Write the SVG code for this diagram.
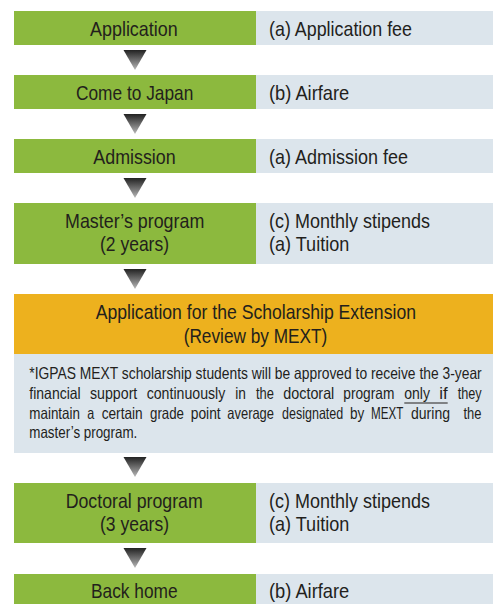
<svg xmlns="http://www.w3.org/2000/svg" width="493" height="604" viewBox="0 0 493 604">
<style>
.g{fill:#8cb93e}
.b{fill:#dce5ec}
.o{fill:#edb11e}
.t{font-family:"Liberation Sans",Arial,sans-serif;font-size:21px;fill:#231f1c}
.n{font-family:"Liberation Sans",Arial,sans-serif;font-size:16.3px;fill:#231f1c}
</style>
<defs>
<linearGradient id="ag" x1="0" y1="0" x2="0" y2="1">
<stop offset="0" stop-color="#222"/>
<stop offset="1" stop-color="#b8b8b8"/>
</linearGradient>
</defs>
<rect width="493" height="604" fill="#fff"/>
<g id="connectors" fill="url(#ag)">
<polygon points="123.5,50 146.5,50 135,70"/>
<polygon points="123.5,114 146.5,114 135,134"/>
<polygon points="123.5,178 146.5,178 135,198"/>
<polygon points="123.5,269 146.5,269 135,289"/>
<polygon points="123.5,457 146.5,457 135,477"/>
<polygon points="123.5,548 146.5,548 135,568"/>
</g>
<g id="application">
<rect class="g" x="14" y="11" width="242" height="34"/>
<rect class="b" x="256" y="11" width="237" height="34"/>
<text class="t" x="90" y="36" textLength="87.7" lengthAdjust="spacingAndGlyphs">Application</text>
<text class="t" x="269" y="36" textLength="143" lengthAdjust="spacingAndGlyphs">(a) Application fee</text>
</g>
<g id="come-to-japan">
<rect class="g" x="14" y="75" width="242" height="34"/>
<rect class="b" x="256" y="75" width="237" height="34"/>
<text class="t" x="76" y="100" textLength="117.3" lengthAdjust="spacingAndGlyphs">Come to Japan</text>
<text class="t" x="269" y="100" textLength="80.3" lengthAdjust="spacingAndGlyphs">(b) Airfare</text>
</g>
<g id="admission">
<rect class="g" x="14" y="139" width="242" height="34"/>
<rect class="b" x="256" y="139" width="237" height="34"/>
<text class="t" x="93.3" y="164" textLength="82.4" lengthAdjust="spacingAndGlyphs">Admission</text>
<text class="t" x="269" y="164" textLength="139" lengthAdjust="spacingAndGlyphs">(a) Admission fee</text>
</g>
<g id="masters">
<rect class="g" x="14" y="203" width="242" height="61"/>
<rect class="b" x="256" y="203" width="237" height="61"/>
<text class="t" x="65" y="227.5" textLength="139.3" lengthAdjust="spacingAndGlyphs">Master’s program</text>
<text class="t" x="100" y="250.5" textLength="69" lengthAdjust="spacingAndGlyphs">(2 years)</text>
<text class="t" x="269" y="227.5" textLength="161" lengthAdjust="spacingAndGlyphs">(c) Monthly stipends</text>
<text class="t" x="269" y="250.5" textLength="80.3" lengthAdjust="spacingAndGlyphs">(a) Tuition</text>
</g>
<g id="extension">
<rect class="o" x="14" y="294" width="479" height="60"/>
<rect class="b" x="14" y="354" width="479" height="99"/>
<text class="t" x="95.7" y="319" textLength="320.3" lengthAdjust="spacingAndGlyphs">Application for the Scholarship Extension</text>
<text class="t" x="183.7" y="343" textLength="143.6" lengthAdjust="spacingAndGlyphs">(Review by MEXT)</text>
<g transform="scale(0.82,1)">
<text class="n" x="35.73" y="379" textLength="551.7" lengthAdjust="spacingAndGlyphs">*IGPAS MEXT scholarship students will be approved to receive the 3-year</text>
<g>
<text class="n" x="35.73" y="399" textLength="62.68" lengthAdjust="spacingAndGlyphs">financial</text>
<text class="n" x="109.76" y="399" textLength="57.68" lengthAdjust="spacingAndGlyphs">support</text>
<text class="n" x="178.9" y="399" textLength="95.85" lengthAdjust="spacingAndGlyphs">continuously</text>
<text class="n" x="286.95" y="399" textLength="13.05" lengthAdjust="spacingAndGlyphs">in</text>
<text class="n" x="312.2" y="399" textLength="21.95" lengthAdjust="spacingAndGlyphs">the</text>
<text class="n" x="345.49" y="399" textLength="62.2" lengthAdjust="spacingAndGlyphs">doctoral</text>
<text class="n" x="418.66" y="399" textLength="62.2" lengthAdjust="spacingAndGlyphs">program</text>
<text class="n" x="493.05" y="399" textLength="31.34" lengthAdjust="spacingAndGlyphs">only</text>
<text class="n" x="535.73" y="399" textLength="10.24" lengthAdjust="spacingAndGlyphs">if</text>
<text class="n" x="558.17" y="399" textLength="29.27" lengthAdjust="spacingAndGlyphs">they</text>
</g>
<g>
<text class="n" x="35.73" y="419" textLength="61.83" lengthAdjust="spacingAndGlyphs">maintain</text>
<text class="n" x="106.46" y="419" textLength="8.54" lengthAdjust="spacingAndGlyphs">a</text>
<text class="n" x="124.02" y="419" textLength="50" lengthAdjust="spacingAndGlyphs">certain</text>
<text class="n" x="182.93" y="419" textLength="41.46" lengthAdjust="spacingAndGlyphs">grade</text>
<text class="n" x="232.56" y="419" textLength="36.59" lengthAdjust="spacingAndGlyphs">point</text>
<text class="n" x="277.2" y="419" textLength="56.95" lengthAdjust="spacingAndGlyphs">average</text>
<text class="n" x="343.9" y="419" textLength="74.76" lengthAdjust="spacingAndGlyphs">designated</text>
<text class="n" x="426.83" y="419" textLength="17.44" lengthAdjust="spacingAndGlyphs">by</text>
<text class="n" x="452.44" y="419" textLength="39.39" lengthAdjust="spacingAndGlyphs">MEXT</text>
<text class="n" x="501.22" y="419" textLength="47.56" lengthAdjust="spacingAndGlyphs">during</text>
<text class="n" x="565.24" y="419" textLength="21.95" lengthAdjust="spacingAndGlyphs">the</text>
</g>
<text class="n" x="35.73" y="438.5" textLength="131.71" lengthAdjust="spacingAndGlyphs">master’s program.</text>
</g>
<line x1="404.3" y1="403" x2="447.7" y2="403" stroke="#231f1c" stroke-width="1"/>
</g>
<g id="doctoral">
<rect class="g" x="14" y="483" width="242" height="60"/>
<rect class="b" x="256" y="483" width="237" height="60"/>
<text class="t" x="65.7" y="507.5" textLength="137" lengthAdjust="spacingAndGlyphs">Doctoral program</text>
<text class="t" x="100" y="530.5" textLength="69" lengthAdjust="spacingAndGlyphs">(3 years)</text>
<text class="t" x="269" y="507.5" textLength="161" lengthAdjust="spacingAndGlyphs">(c) Monthly stipends</text>
<text class="t" x="269" y="530.5" textLength="80.3" lengthAdjust="spacingAndGlyphs">(a) Tuition</text>
</g>
<g id="back-home">
<rect class="g" x="14" y="574" width="242" height="30"/>
<rect class="b" x="256" y="574" width="237" height="30"/>
<text class="t" x="91" y="598" textLength="86.7" lengthAdjust="spacingAndGlyphs">Back home</text>
<text class="t" x="269" y="598" textLength="80.3" lengthAdjust="spacingAndGlyphs">(b) Airfare</text>
</g>
</svg>
